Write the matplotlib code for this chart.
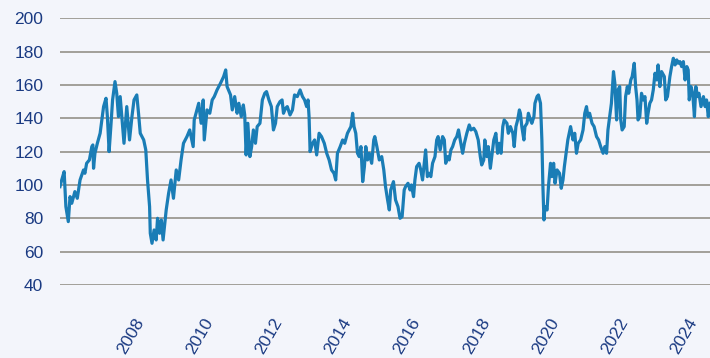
import matplotlib
matplotlib.use("Agg")
import matplotlib.pyplot as plt
import matplotlib.transforms as mtransforms
import numpy as np

# Index level, sampled as decimal years
t_2006 = [2006.25, 2006.30, 2006.37, 2006.42, 2006.49, 2006.54, 2006.59, 2006.68, 2006.75, 2006.83,
          2006.93, 2006.97, 2007.02, 2007.10, 2007.17, 2007.20, 2007.22, 2007.26, 2007.33, 2007.41,
          2007.46, 2007.51, 2007.58, 2007.62, 2007.67, 2007.72, 2007.77, 2007.84, 2007.89, 2007.94,
          2007.99, 2008.07, 2008.10, 2008.18, 2008.26, 2008.33, 2008.39, 2008.47, 2008.52, 2008.57,
          2008.67, 2008.73, 2008.78, 2008.84, 2008.86, 2008.91, 2008.97, 2009.03, 2009.07, 2009.13,
          2009.18, 2009.23, 2009.27, 2009.32, 2009.39, 2009.46, 2009.53, 2009.61, 2009.68, 2009.75,
          2009.82, 2009.92, 2010.00, 2010.10, 2010.13, 2010.26, 2010.33, 2010.39, 2010.42, 2010.50,
          2010.58, 2010.65, 2010.71, 2010.79, 2010.89, 2010.98, 2011.04, 2011.08]
v_2006 = [99, 103, 108, 87, 78, 93, 89, 96, 92, 103,
          109, 107, 113, 115, 123, 124, 110, 119, 125, 131,
          139, 147, 152, 141, 120, 135, 151, 162, 155, 141,
          153, 133, 125, 147, 127, 141, 151, 154, 143, 131,
          127, 121, 103, 87, 71, 65, 73, 67, 80, 71,
          79, 67, 75, 85, 95, 103, 92, 109, 103, 115,
          125, 129, 133, 123, 139, 149, 137, 151, 127, 145,
          143, 151, 153, 157, 161, 165, 169, 159]

t_2011 = [2011.18, 2011.23, 2011.30, 2011.37, 2011.42, 2011.49, 2011.55, 2011.59, 2011.63, 2011.68,
          2011.74, 2011.79, 2011.84, 2011.90, 2011.95, 2012.03, 2012.10, 2012.17, 2012.22, 2012.29,
          2012.36, 2012.42, 2012.48, 2012.53, 2012.61, 2012.67, 2012.71, 2012.77, 2012.82, 2012.90,
          2012.97, 2013.03, 2013.11, 2013.19, 2013.26, 2013.32, 2013.38, 2013.42, 2013.45, 2013.48,
          2013.55, 2013.61, 2013.67, 2013.74, 2013.81, 2013.89, 2013.96, 2014.03, 2014.10, 2014.17,
          2014.22, 2014.27, 2014.35, 2014.42, 2014.48, 2014.56, 2014.61, 2014.66, 2014.71, 2014.75,
          2014.80, 2014.85, 2014.90, 2014.95, 2015.00, 2015.05, 2015.09, 2015.14, 2015.19, 2015.26,
          2015.32, 2015.35, 2015.41, 2015.48, 2015.55, 2015.61, 2015.66, 2015.72, 2015.77]
v_2011 = [154, 145, 153, 143, 149, 141, 148, 142, 118, 137,
          117, 123, 133, 125, 135, 137, 151, 155, 156, 151,
          147, 133, 137, 147, 150, 151, 143, 146, 147, 142,
          145, 154, 153, 157, 153, 151, 147, 151, 141, 120,
          125, 127, 118, 131, 129, 125, 119, 115, 109, 107,
          103, 119, 123, 127, 125, 131, 133, 135, 143, 135,
          131, 119, 117, 123, 102, 111, 123, 115, 119, 113,
          127, 129, 123, 115, 117, 109, 99, 91, 85]

t_2015 = [2015.81, 2015.89, 2015.95, 2016.02, 2016.08, 2016.14, 2016.20, 2016.24, 2016.31, 2016.37,
          2016.41, 2016.47, 2016.51, 2016.56, 2016.63, 2016.68, 2016.73, 2016.78, 2016.82, 2016.87,
          2016.92, 2016.97, 2017.02, 2017.09, 2017.14, 2017.18, 2017.24, 2017.31, 2017.36, 2017.40,
          2017.45, 2017.50, 2017.55, 2017.60, 2017.66, 2017.72, 2017.77, 2017.82, 2017.89, 2017.94,
          2018.01, 2018.08, 2018.13, 2018.21, 2018.27, 2018.34, 2018.40, 2018.44, 2018.50, 2018.53,
          2018.59, 2018.63, 2018.69, 2018.73, 2018.79, 2018.85, 2018.90, 2018.95, 2019.00, 2019.05,
          2019.09, 2019.17, 2019.21, 2019.27, 2019.34, 2019.38, 2019.43, 2019.48, 2019.53, 2019.56,
          2019.60, 2019.66, 2019.69, 2019.75, 2019.79, 2019.85, 2019.89, 2019.95, 2019.98, 2020.04,
          2020.08, 2020.14, 2020.18, 2020.21, 2020.24, 2020.27, 2020.33, 2020.37, 2020.43, 2020.47,
          2020.52, 2020.56, 2020.62, 2020.69, 2020.74, 2020.79, 2020.83, 2020.88, 2020.93, 2021.01]
v_2015 = [97, 102, 91, 87, 80, 81, 97, 99, 101, 97,
          100, 93, 103, 111, 113, 109, 103, 113, 121, 105,
          107, 105, 113, 117, 127, 129, 121, 129, 127, 113,
          117, 115, 121, 123, 127, 129, 133, 127, 119, 125,
          131, 136, 133, 134, 132, 127, 117, 112, 115, 127,
          117, 123, 110, 117, 127, 131, 119, 125, 119, 135,
          139, 137, 131, 135, 131, 123, 135, 139, 145, 143,
          135, 127, 135, 137, 143, 139, 137, 141, 149, 153,
          154, 149, 127, 99, 79, 87, 85, 99, 113, 105,
          113, 101, 109, 107, 98, 103, 111, 119, 127, 135]

t_2021 = [2021.08, 2021.13, 2021.18, 2021.23, 2021.30, 2021.37, 2021.42, 2021.47, 2021.51, 2021.56,
          2021.63, 2021.69, 2021.76, 2021.82, 2021.88, 2021.95, 2022.00, 2022.05, 2022.09, 2022.14,
          2022.19, 2022.22, 2022.25, 2022.29, 2022.34, 2022.38, 2022.43, 2022.46, 2022.50, 2022.56,
          2022.60, 2022.65, 2022.69, 2022.75, 2022.79, 2022.85, 2022.89, 2022.93, 2022.96, 2023.01,
          2023.06, 2023.11, 2023.16, 2023.21, 2023.25, 2023.30, 2023.35, 2023.40, 2023.45, 2023.50,
          2023.54, 2023.59, 2023.64, 2023.72, 2023.76, 2023.81, 2023.88, 2023.93, 2023.98, 2024.03,
          2024.08, 2024.12, 2024.17, 2024.22, 2024.27, 2024.32, 2024.37, 2024.41, 2024.44, 2024.49,
          2024.54, 2024.59, 2024.63, 2024.68, 2024.72, 2024.78, 2024.85, 2024.90, 2024.94, 2024.99,
          2025.04]
v_2021 = [127, 131, 119, 125, 127, 133, 143, 147, 141, 143,
          137, 135, 129, 127, 123, 119, 123, 119, 133, 141,
          149, 159, 168, 161, 139, 157, 159, 139, 133, 135,
          153, 159, 155, 163, 165, 173, 159, 151, 139, 141,
          155, 151, 153, 137, 143, 149, 151, 157, 167, 163,
          172, 159, 168, 165, 151, 153, 165, 171, 176, 172,
          175, 173, 174, 171, 174, 163, 171, 169, 151, 159,
          155, 141, 159, 153, 155, 147, 153, 147, 151, 141,
          149]

years = [2008, 2010, 2012, 2014, 2016, 2018, 2020, 2022, 2024]
y_ticks = [40, 60, 80, 100, 120, 140, 160, 180, 200]

t = np.array(t_2006 + t_2011 + t_2015 + t_2021)
v = np.array(v_2006 + v_2011 + v_2015 + v_2021)

bg = '#f3f5fb'
navy = '#1a3a82'
line_blue = '#1a7db6'

plt.rcParams['font.family'] = ['Liberation Sans', 'DejaVu Sans']

fig = plt.figure(figsize=(7.10, 3.58), dpi=100)
fig.patch.set_facecolor(bg)
ax = fig.add_axes([0.0845, 0.204, 0.9155, 0.745])
ax.set_facecolor(bg)

ax.plot(t, v, color=line_blue, linewidth=2.3, solid_joinstyle='round', zorder=3)

ax.set_xlim(t[0], t[-1])
ax.set_ylim(40, 200)
ax.set_yticks(y_ticks)
ax.set_xticks(years)
ax.set_xticklabels([str(y) for y in years], rotation=60, ha='center', va='top')

ax.grid(axis='y', color='#9b9891', linewidth=1.3)
ax.grid(axis='x', visible=False)
for s in ax.spines.values():
    s.set_visible(False)
ax.tick_params(axis='both', length=0, labelsize=12.5, labelcolor=navy)
ax.tick_params(axis='y', pad=12)
ax.tick_params(axis='x', pad=22)

# shift the rotated year labels a little to the right
shift = mtransforms.ScaledTranslation(10 / 100, 0, fig.dpi_scale_trans)
for lab in ax.get_xticklabels():
    lab.set_transform(lab.get_transform() + shift)

fig.savefig('out.png', dpi=100, facecolor=bg)
